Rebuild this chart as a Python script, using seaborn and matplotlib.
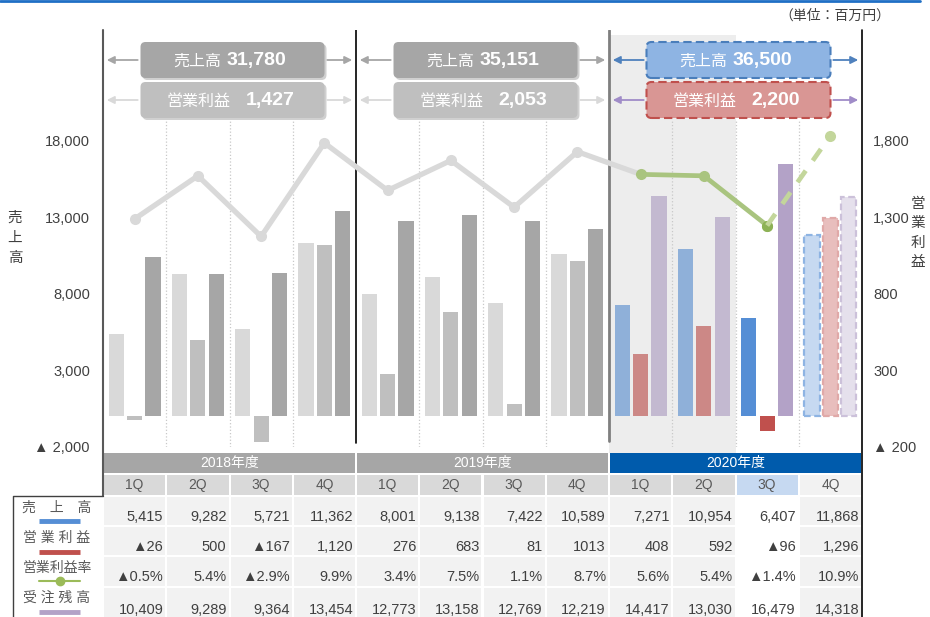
import numpy as np
import pandas as pd
import matplotlib.pyplot as plt
import seaborn as sns
from matplotlib.patches import FancyBboxPatch, FancyArrowPatch, Rectangle
from matplotlib.lines import Line2D

sns.set_style('white')
plt.rcParams['font.family'] = ['Liberation Sans', 'Noto Sans CJK JP']

# data (millions of yen)
years = ['2018年度', '2019年度', '2020年度']
quarters = ['1Q', '2Q', '3Q', '4Q']
sales = [5415, 9282, 5721, 11362, 8001, 9138, 7422, 10589, 7271, 10954, 6407, 11868]
op_profit = [-26, 500, -167, 1120, 276, 683, 81, 1013, 408, 592, -96, 1296]
margin = [-0.5, 5.4, -2.9, 9.9, 3.4, 7.5, 1.1, 8.7, 5.6, 5.4, -1.4, 10.9]
backlog = [10409, 9289, 9364, 13454, 12773, 13158, 12769, 12219, 14417, 13030, 16479, 14318]
year_sales = ['31,780', '35,151', '36,500']
year_op = ['1,427', '2,053', '2,200']

# colours per bar: 2018-2019 grey, 2020 1Q-2Q pale, 2020 3Q strong, 2020 4Q forecast
sales_colors = ['#D9D9D9'] * 8 + ['#8FB0D9', '#8FB0D9', '#558ED5', '#C6D9F1']
op_colors = ['#BFBFBF'] * 8 + ['#CC8886', '#CC8886', '#C0504D', '#E8BEBD']
backlog_colors = ['#A6A6A6'] * 8 + ['#C3B9D0', '#C3B9D0', '#B3A2C7', '#E5E0EC']

df = pd.DataFrame({
    'pos': np.arange(12),
    'period': [f'{y[:4]} {q}' for y in years for q in quarters],
    'sales': sales, 'op': op_profit, 'margin': margin, 'backlog': backlog,
})

W, H = 930, 617
fig = plt.figure(figsize=(W / 100, H / 100), dpi=100)
T = fig.dpi_scale_trans


def P(x, y):
    # pixel (from top-left) -> inches for dpi_scale_trans
    return x / 100, (H - y) / 100


def col_x(i):
    return 103 + i * 759 / 12


ax = fig.add_axes([103 / W, (H - 447) / H, 759 / W, 417 / H])
ax2 = ax.twinx()
ax3 = ax.twinx()
for a in (ax, ax2, ax3):
    a.patch.set_visible(False)
    for s in a.spines.values():
        s.set_visible(False)

# shaded 2020 1Q-2Q
ax.axvspan(7.5, 9.5, ymin=-6 / 417, ymax=(447 - 35) / 417, color='#EDEDED', lw=0, clip_on=False, zorder=0)
for b in [0.5, 1.5, 2.5, 4.5, 5.5, 6.5, 8.5, 9.5, 10.5]:
    ax.axvline(b, ymin=0, ymax=(447 - 120) / 417, color='#C8C8C8', ls=':', lw=0.9, zorder=0.5)
ax.axvline(3.5, ymin=4 / 417, color='black', lw=1.2, zorder=1)
ax.axvline(7.5, ymin=6 / 417, color='#7F7F7F', lw=2, zorder=1)


def draw_bars(axis, col, offset, colors, edge):
    act = df.iloc[:11]
    sns.barplot(x=act['pos'] + offset, y=act[col], hue=act['period'], palette=colors[:11],
                native_scale=True, width=0.24, saturation=1, legend=False, errorbar=None,
                linewidth=0, ax=axis)
    fc = df.iloc[11:]
    sns.barplot(x=fc['pos'] + offset, y=fc[col], color=colors[11], native_scale=True,
                width=0.24, saturation=1, errorbar=None, edgecolor=edge, linewidth=1.6,
                linestyle=(0, (3, 1.6)), ax=axis)


draw_bars(ax, 'sales', -0.29, sales_colors, '#8EB4E3')
draw_bars(ax, 'backlog', 0.29, backlog_colors, '#CCC1DA')
draw_bars(ax2, 'op', 0.0, op_colors, '#E0A9A8')

# operating margin line
sns.lineplot(x=df['pos'][:9], y=df['margin'][:9], color='#D9D9D9', lw=3.8, marker='o', markersize=8,
             markeredgewidth=0, markevery=list(range(8)), ax=ax3)
sns.lineplot(x=df['pos'][8:11], y=df['margin'][8:11], color='#A9C47F', lw=3.4, marker='o', markersize=8,
             markeredgewidth=0, ax=ax3)
sns.lineplot(x=df['pos'][10:11], y=df['margin'][10:11], color='#8DB255', marker='o', markersize=8,
             markeredgewidth=0, ax=ax3)
sns.lineplot(x=df['pos'][10:12], y=df['margin'][10:12], color='#C3D69B', lw=3.4, ls=(0, (3, 2.6)),
             marker='o', markersize=8, markeredgewidth=0, markevery=[1], ax=ax3)

ax.set_xlim(-0.5, 11.5)
ax.set_ylim(-2000, 25250)
ax2.set_ylim(-200, 2525)
ax3.set_ylim(-31.7, 25.35)
for a in (ax, ax2, ax3):
    a.set_xticks([])
    a.set_xlabel('')
    a.set_ylabel('')
ax.set_yticks([18000, 13000, 8000, 3000, -2000], ['18,000', '13,000', '8,000', '3,000', '▲ 2,000'])
ax2.set_yticks([1800, 1300, 800, 300, -200], ['1,800', '1,300', '800', '300', '▲ 200'])
ax3.set_yticks([])
ax.tick_params(axis='y', length=0, pad=9.4, labelsize=10.5, labelcolor='#404040')
ax2.tick_params(axis='y', length=0, pad=8, labelsize=10.5, labelcolor='#404040')

fig.text(15 / W, 1 - 238 / H, '売\n上\n高', ha='center', va='center', fontsize=10.5, color='#404040',
         linespacing=1.55)
fig.text(918 / W, 1 - 233 / H, '営\n業\n利\n益', ha='center', va='center', fontsize=10.5, color='#404040',
         linespacing=1.5)
fig.text(890 / W, 1 - 16 / H, '（単位：百万円）', ha='right', va='center', fontsize=10, color='#404040')

# top rule and frame lines
fig.add_artist(Line2D([0, 920 / W], [1 - 1 / H, 1 - 1 / H], color='#1F6FC5', lw=2))
fig.add_artist(Line2D([103 / W, 103 / W], [1 - 30 / H, 1 - 496 / H], color='#595959', lw=1.5))
fig.add_artist(Line2D([862 / W, 862 / W], [1 - 30 / H, 0], color='black', lw=1.2))

# yearly summary boxes
box_styles = [
    ('#A6A6A6', None, '#BFBFBF', None, '#A6A6A6', '#D9D9D9'),
    ('#A6A6A6', None, '#BFBFBF', None, '#A6A6A6', '#D9D9D9'),
    ('#8EB4E3', '#4A7EBB', '#D99694', '#C0504D', '#4F81BD', '#A08CC8'),
]
for k in range(3):
    fs, es, fo, eo, arr_s, arr_o = box_styles[k]
    x0, x1 = col_x(4 * k), col_x(4 * k + 4)
    cx = (x0 + x1) / 2 + 3
    bw = 184
    for (y0, y1, face, edge, arr, label, val, dl, dv) in [
        (42, 78, fs, es, arr_s, '売上高', year_sales[k], -11, -6),
        (82, 118, fo, eo, arr_o, '営業利益', year_op[k], -2, 13),
    ]:
        if edge is None:
            sh = FancyBboxPatch(P(cx - bw / 2 + 2, y1 + 2), bw / 100, (y1 - y0) / 100,
                                boxstyle='round,pad=0,rounding_size=0.05', transform=T,
                                fc='#D0D0D0', ec='none', zorder=4)
            fig.add_artist(sh)
        box = FancyBboxPatch(P(cx - bw / 2, y1), bw / 100, (y1 - y0) / 100,
                             boxstyle='round,pad=0,rounding_size=0.05', transform=T,
                             fc=face, ec=edge if edge else 'none', lw=1.5,
                             ls=(0, (4, 2)) if edge else '-', zorder=5)
        fig.add_artist(box)
        ym = (y0 + y1) / 2
        for xa, xb in [(cx - bw / 2, x0 + 1), (cx + bw / 2, x1 - 1)]:
            fig.add_artist(FancyArrowPatch(P(xa, ym), P(xb, ym), transform=T, arrowstyle='-|>',
                                           mutation_scale=11, color=arr, lw=1.3, zorder=4))
        fig.text(*P(cx + dl, ym + 1), label, transform=T, ha='right', va='center', fontsize=11.5,
                 color='white', zorder=6)
        fig.text(*P(cx + dv, ym + 1), val, transform=T, ha='left', va='center', fontsize=14,
                 fontweight='bold', color='white', zorder=6)

# table: year row, quarter row, four data rows
def cell(x0, y0, x1, y1, color):
    fig.add_artist(Rectangle(P(x0, y1), (x1 - x0) / 100, (y1 - y0) / 100, transform=T,
                             fc=color, ec='none', zorder=1))


for k, y in enumerate(years):
    x0, x1 = col_x(4 * k), col_x(4 * k + 4)
    cell(x0 + 1, 453, x1 - 1, 473, '#005BAC' if k == 2 else '#A6A6A6')
    fig.text(*P((x0 + x1) / 2, 463), y, transform=T, ha='center', va='center', fontsize=10, color='white')

q_colors = ['#D9D9D9'] * 10 + ['#C6D9F1', '#F2F2F2']
for i in range(12):
    x0, x1 = col_x(i), col_x(i + 1)
    cell(x0 + 1, 475, x1 - 1, 495, q_colors[i])
    fig.text(*P((x0 + x1) / 2, 485), quarters[i % 4], transform=T, ha='center', va='center',
             fontsize=10, color='#595959')


def fmt(v, suffix='', dec=0):
    s = f'{abs(v):,.{dec}f}{suffix}'
    return '▲' + s if v < 0 else s


op_text = [fmt(v) for v in op_profit]
op_text[7] = '1013'  # printed without separator in the source
rows = [
    [fmt(v) for v in sales],
    op_text,
    [fmt(v, '%', 1) for v in margin],
    [fmt(v) for v in backlog],
]
row_spans = [(497, 525), (527, 555), (557, 586), (588, 617)]
text_y = [517, 547, 577, 610]
for r, (y0, y1) in enumerate(row_spans):
    for i in range(12):
        x0, x1 = col_x(i), col_x(i + 1)
        cell(x0 + 1, y0, x1 - 1, y1, 'white' if i == 10 else '#F2F2F2')
        fig.text(*P(x1 - 3, text_y[r]), rows[r][i], transform=T, ha='right', va='center',
                 fontsize=10.5, color='#404040', zorder=2)

# legend column
fig.add_artist(Line2D([13 / W, 13 / W, 103 / W], [0, 1 - 496 / H, 1 - 496 / H], color='#404040', lw=1))
leg = [('売　上　高', '#558ED5', False), ('営 業 利 益', '#C0504D', False),
       ('営業利益率', '#9BBB59', True), ('受 注 残 高', '#B3A2C7', False)]
for r, (lab, c, dot) in enumerate(leg):
    ty = [508, 538, 568, 598][r]
    ly = [521, 552, 581, 612][r]
    fig.text(*P(57, ty), lab, transform=T, ha='center', va='center', fontsize=10, color='#595959')
    if dot:
        fig.add_artist(Line2D([39 / W, 80 / W], [1 - ly / H] * 2, color=c, lw=1.5))
        fig.add_artist(Line2D([59.5 / W], [1 - ly / H], color=c, marker='o', markersize=6, lw=0))
    else:
        fig.add_artist(Line2D([39 / W, 80 / W], [1 - ly / H] * 2, color=c, lw=3.5, solid_capstyle='butt'))

fig.savefig('out.png', dpi=100)
